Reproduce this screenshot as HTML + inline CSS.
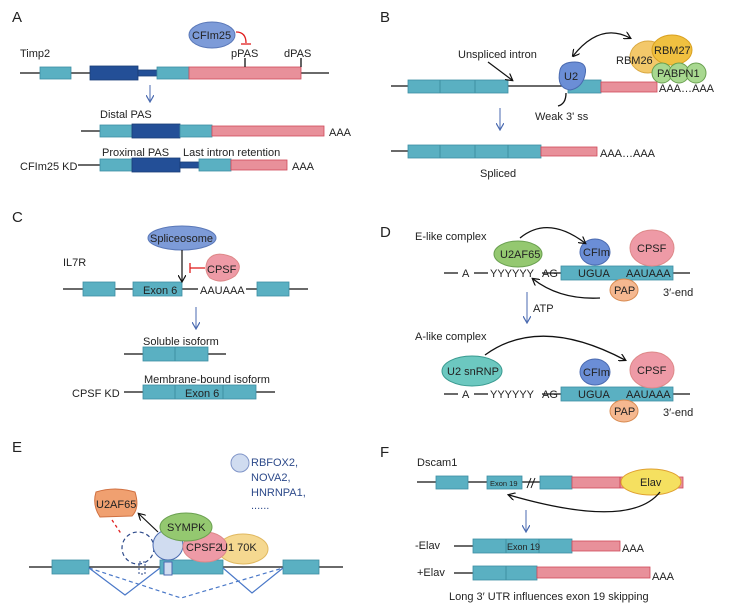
<!DOCTYPE html>
<html><head><meta charset="utf-8"><style>
body{margin:0;background:#fff}
svg{display:block;font-family:"Liberation Sans",sans-serif}
.t{fill:#5ab0c2;stroke:#3d8fa3;stroke-width:.8}
.d{fill:#234f97;stroke:#1a3d78;stroke-width:.8}
.p{fill:#e8909a;stroke:#d04a5a;stroke-width:.8}
.l{stroke:#111;stroke-width:1.3;fill:none}
text{font-size:11px;fill:#222}
.big{font-size:15px}
</style></head><body>
<svg width="731" height="613" viewBox="0 0 731 613">
<defs>
<marker id="ab" markerWidth="8" markerHeight="8" refX="6" refY="4" orient="auto" markerUnits="userSpaceOnUse"><path d="M0,0 L7,4 L0,8" fill="none" stroke="#4a6ab0" stroke-width="1.2"/></marker>
<marker id="ak" markerWidth="8" markerHeight="8" refX="6" refY="4" orient="auto" markerUnits="userSpaceOnUse"><path d="M0,0 L7,4 L0,8" fill="none" stroke="#111" stroke-width="1.2"/></marker>
<marker id="aks" markerWidth="8" markerHeight="8" refX="1" refY="4" orient="auto" markerUnits="userSpaceOnUse"><path d="M7,0 L0,4 L7,8" fill="none" stroke="#111" stroke-width="1.2"/></marker>
</defs>
<!-- A -->
<text x="12" y="22" class="big">A</text>
<text x="20" y="57">Timp2</text>
<line x1="20" y1="73" x2="329" y2="73" class="l"/>
<rect x="40" y="67" width="31" height="12" class="t"/>
<rect x="90" y="66" width="48" height="14" class="d"/>
<rect x="138" y="70" width="19" height="6" class="d"/>
<rect x="157" y="67" width="32" height="12" class="t"/>
<rect x="189" y="67" width="112" height="12" class="p"/>
<line x1="245" y1="58" x2="245" y2="67" class="l"/>
<line x1="301" y1="58" x2="301" y2="67" class="l"/>
<text x="231" y="57">pPAS</text><text x="284" y="57">dPAS</text>
<ellipse cx="212" cy="35" rx="23" ry="13" fill="#7d9bd8" stroke="#5a78b8"/>
<text x="192" y="39">CFIm25</text>
<path d="M236,32 Q246,32 246,43" stroke="#e02020" fill="none" stroke-width="1.3"/>
<line x1="241" y1="44" x2="251" y2="44" stroke="#e02020" stroke-width="1.3"/>
<line x1="150" y1="85" x2="150" y2="101" stroke="#4a6ab0" marker-end="url(#ab)"/>
<text x="100" y="118">Distal PAS</text>
<line x1="81" y1="131" x2="100" y2="131" class="l"/>
<rect x="100" y="125" width="32" height="12" class="t"/>
<rect x="132" y="124" width="48" height="14" class="d"/>
<rect x="180" y="125" width="32" height="12" class="t"/>
<rect x="212" y="126" width="112" height="10" class="p"/>
<text x="329" y="136">AAA</text>
<text x="102" y="156">Proximal PAS</text><text x="183" y="156">Last intron retention</text>
<text x="20" y="170">CFIm25 KD</text>
<line x1="78" y1="165" x2="100" y2="165" class="l"/>
<rect x="100" y="159" width="32" height="12" class="t"/>
<rect x="132" y="158" width="48" height="14" class="d"/>
<rect x="180" y="162" width="19" height="6" class="d"/>
<rect x="199" y="159" width="32" height="12" class="t"/>
<rect x="231" y="160" width="56" height="10" class="p"/>
<text x="292" y="170">AAA</text>
<!-- B -->
<text x="380" y="22" class="big">B</text>
<line x1="391" y1="86" x2="570" y2="86" class="l"/>
<rect x="408" y="80" width="100" height="13" class="t"/>
<line x1="440" y1="80" x2="440" y2="93" stroke="#3d8fa3"/><line x1="475" y1="80" x2="475" y2="93" stroke="#3d8fa3"/>
<rect x="568" y="80" width="33" height="13" class="t"/>
<rect x="601" y="82" width="56" height="10" class="p"/>
<text x="659" y="92">AAA…AAA</text>
<text x="458" y="58">Unspliced intron</text>
<line x1="488" y1="62" x2="512" y2="80" stroke="#111" stroke-width="1.2" marker-end="url(#ak)"/>
<path d="M560,70 Q562,62 575,62 Q588,62 585,75 Q582,88 570,90 Q556,88 560,70Z" fill="#6b8ed6" stroke="#4a6ab0"/>
<text x="564" y="80">U2</text>
<path d="M566,93 Q566,104 558,106" class="l"/>
<text x="535" y="120">Weak 3' ss</text>
<path d="M573,56 Q600,22 630,38" class="l" marker-start="url(#aks)" marker-end="url(#ak)"/>
<ellipse cx="648" cy="57" rx="18" ry="16" fill="#f3c86a" stroke="#d9a840"/>
<ellipse cx="672" cy="50" rx="20" ry="15" fill="#f0c040" stroke="#d9a020"/>
<circle cx="662" cy="73" r="10" fill="#a8d890" stroke="#6aa050"/>
<circle cx="679" cy="73" r="10" fill="#a8d890" stroke="#6aa050"/>
<circle cx="696" cy="73" r="10" fill="#a8d890" stroke="#6aa050"/>
<text x="616" y="64">RBM26</text><text x="654" y="54">RBM27</text><text x="657" y="77">PABPN1</text>
<line x1="500" y1="108" x2="500" y2="129" stroke="#4a6ab0" marker-end="url(#ab)"/>
<line x1="391" y1="151" x2="408" y2="151" class="l"/>
<rect x="408" y="145" width="133" height="13" class="t"/>
<line x1="440" y1="145" x2="440" y2="158" stroke="#3d8fa3"/><line x1="475" y1="145" x2="475" y2="158" stroke="#3d8fa3"/><line x1="508" y1="145" x2="508" y2="158" stroke="#3d8fa3"/>
<rect x="541" y="147" width="56" height="9" class="p"/>
<text x="600" y="157">AAA…AAA</text>
<text x="480" y="177">Spliced</text>
<!-- C -->
<text x="12" y="222" class="big">C</text>
<text x="63" y="266">IL7R</text>
<line x1="63" y1="289" x2="308" y2="289" class="l"/>
<rect x="83" y="282" width="32" height="14" class="t"/>
<rect x="133" y="282" width="49" height="14" class="t"/>
<text x="143" y="294">Exon 6</text>
<rect x="198" y="283" width="48" height="10" fill="#fff"/>
<text x="200" y="294">AAUAAA</text>
<rect x="257" y="282" width="32" height="14" class="t"/>
<ellipse cx="182" cy="238" rx="34" ry="12" fill="#7d9bd8" stroke="#5a78b8"/>
<text x="150" y="242">Spliceosome</text>
<line x1="182" y1="250" x2="182" y2="281" stroke="#111" stroke-width="1.2" marker-end="url(#ak)"/>
<path d="M208,260 Q215,250 232,257 Q245,265 235,276 Q222,285 210,278 Q203,270 208,260Z" fill="#ee9aa6" stroke="#d88"/>
<text x="207" y="273">CPSF</text>
<line x1="205" y1="268" x2="190" y2="268" stroke="#e02020" stroke-width="1.3"/>
<line x1="190" y1="263" x2="190" y2="273" stroke="#e02020" stroke-width="1.3"/>
<line x1="196" y1="307" x2="196" y2="328" stroke="#4a6ab0" marker-end="url(#ab)"/>
<text x="143" y="345">Soluble isoform</text>
<line x1="124" y1="354" x2="226" y2="354" class="l"/>
<rect x="143" y="347" width="65" height="14" class="t"/>
<line x1="175" y1="347" x2="175" y2="361" stroke="#3d8fa3"/>
<text x="144" y="383">Membrane-bound isoform</text>
<text x="72" y="397">CPSF KD</text>
<line x1="124" y1="392" x2="275" y2="392" class="l"/>
<rect x="143" y="385" width="113" height="14" class="t"/>
<line x1="175" y1="385" x2="175" y2="399" stroke="#3d8fa3"/><line x1="223" y1="385" x2="223" y2="399" stroke="#3d8fa3"/>
<text x="185" y="397">Exon 6</text>
<!-- D -->
<text x="380" y="237" class="big">D</text>
<text x="415" y="240">E-like complex</text>
<line x1="444" y1="273" x2="690" y2="273" class="l"/>
<rect x="458" y="268" width="16" height="10" fill="#fff"/><rect x="488" y="268" width="54" height="10" fill="#fff"/>
<text x="462" y="277">A</text><text x="490" y="277">YYYYYY</text><text x="542" y="277">AG</text>
<rect x="561" y="266" width="112" height="14" class="t"/>
<text x="578" y="277">UGUA</text><text x="626" y="277">AAUAAA</text>
<ellipse cx="518" cy="254" rx="24" ry="13" fill="#94c870" stroke="#6aa050"/>
<text x="500" y="258">U2AF65</text>
<ellipse cx="595" cy="252" rx="15" ry="13" fill="#6b8ed6" stroke="#4a6ab0"/>
<text x="583" y="256">CFIm</text>
<ellipse cx="652" cy="248" rx="22" ry="18" fill="#ee9aa6" stroke="#d88"/>
<text x="637" y="252">CPSF</text>
<ellipse cx="624" cy="290" rx="14" ry="11" fill="#f5b890" stroke="#d88a50"/>
<text x="614" y="294">PAP</text>
<text x="663" y="296">3′-end</text>
<path d="M520,238 Q548,215 585,243" class="l" marker-end="url(#ak)"/>
<path d="M600,298 Q560,300 533,279" class="l" marker-end="url(#ak)"/>
<line x1="527" y1="292" x2="527" y2="322" stroke="#4a6ab0" marker-end="url(#ab)"/>
<text x="533" y="312">ATP</text>
<text x="415" y="340">A-like complex</text>
<path d="M485,355 Q540,315 625,360" class="l" marker-end="url(#ak)"/>
<line x1="444" y1="394" x2="690" y2="394" class="l"/>
<rect x="458" y="389" width="16" height="10" fill="#fff"/><rect x="488" y="389" width="54" height="10" fill="#fff"/>
<text x="462" y="398">A</text><text x="490" y="398">YYYYYY</text><text x="542" y="398">AG</text>
<rect x="561" y="387" width="112" height="14" class="t"/>
<text x="578" y="398">UGUA</text><text x="626" y="398">AAUAAA</text>
<ellipse cx="472" cy="371" rx="30" ry="15" fill="#6cc8c0" stroke="#3a9a90"/>
<text x="447" y="375">U2 snRNP</text>
<ellipse cx="595" cy="372" rx="15" ry="13" fill="#6b8ed6" stroke="#4a6ab0"/>
<text x="583" y="376">CFIm</text>
<ellipse cx="652" cy="370" rx="22" ry="18" fill="#ee9aa6" stroke="#d88"/>
<text x="637" y="374">CPSF</text>
<ellipse cx="624" cy="411" rx="14" ry="11" fill="#f5b890" stroke="#d88a50"/>
<text x="614" y="415">PAP</text>
<text x="663" y="416">3′-end</text>
<!-- E -->
<text x="12" y="452" class="big">E</text>
<circle cx="240" cy="463" r="9" fill="#d0dcf0" stroke="#8095c8"/>
<text x="251" y="466" style="fill:#2d4a8a">RBFOX2,</text>
<text x="251" y="481" style="fill:#2d4a8a">NOVA2,</text>
<text x="251" y="496" style="fill:#2d4a8a">HNRNPA1,</text>
<text x="251" y="509" style="fill:#2d4a8a">......</text>
<line x1="29" y1="567" x2="343" y2="567" class="l"/>
<rect x="52" y="560" width="37" height="14" class="t"/>
<rect x="160" y="560" width="63" height="14" class="t"/>
<rect x="283" y="560" width="36" height="14" class="t"/>
<rect x="164" y="562" width="8" height="13" fill="#d0dcf0" stroke="#4a6ab0"/>
<rect x="139" y="562" width="6" height="12" fill="none" stroke="#2d4a8a" stroke-dasharray="2,2"/>
<path d="M89,568 L125,595 L160,568 M223,568 L252,593 L283,568" stroke="#4a78c8" stroke-width="1.2" fill="none"/>
<path d="M89,568 L181,598 L283,568" stroke="#4a78c8" stroke-width="1.2" fill="none" stroke-dasharray="4,3"/>
<circle cx="138" cy="548" r="16" fill="none" stroke="#2d4a8a" stroke-width="1.2" stroke-dasharray="4,3"/>
<circle cx="168" cy="545" r="15" fill="#d0dcf0" stroke="#4a6ab0"/>
<ellipse cx="243" cy="549" rx="25" ry="15" fill="#f5d890" stroke="#e0b860"/>
<ellipse cx="205" cy="547" rx="22" ry="15" fill="#ee9aa6" stroke="#d88"/>
<text x="186" y="551">CPSF2</text><text x="220" y="551">U1 70K</text>
<ellipse cx="186" cy="527" rx="26" ry="14" fill="#94c870" stroke="#6aa050"/>
<text x="167" y="531">SYMPK</text>
<path d="M96,492 Q115,486 135,492 Q140,508 132,516 L100,517 Q92,505 96,492Z" fill="#f0a070" stroke="#d07040"/>
<text x="96" y="508">U2AF65</text>
<line x1="158" y1="532" x2="139" y2="514" stroke="#111" stroke-width="1.2" marker-end="url(#ak)"/>
<path d="M112,520 L122,535" stroke="#e02020" stroke-width="1.3" stroke-dasharray="3,3"/>
<!-- F -->
<text x="380" y="457" class="big">F</text>
<text x="417" y="466">Dscam1</text>
<line x1="417" y1="482" x2="540" y2="482" class="l"/>
<rect x="436" y="476" width="32" height="13" class="t"/>
<rect x="487" y="476" width="35" height="13" class="t"/>
<text x="490" y="486" style="font-size:7.5px">Exon 19</text>
<path d="M527,488 L531,478 M531,488 L535,478" stroke="#111" stroke-width="1"/>
<rect x="540" y="476" width="32" height="13" class="t"/>
<rect x="572" y="477" width="111" height="11" class="p"/>
<line x1="620" y1="477" x2="620" y2="488" stroke="#d04a5a"/>
<ellipse cx="651" cy="482" rx="30" ry="13" fill="#f5e060" stroke="#e0a030"/>
<text x="640" y="486">Elav</text>
<path d="M660,492 Q630,530 509,495" class="l" marker-end="url(#ak)"/>
<line x1="526" y1="510" x2="526" y2="531" stroke="#4a6ab0" marker-end="url(#ab)"/>
<text x="415" y="549">-Elav</text>
<line x1="454" y1="546" x2="473" y2="546" class="l"/>
<rect x="473" y="539" width="99" height="14" class="t"/>
<line x1="506" y1="539" x2="506" y2="553" stroke="#3d8fa3"/><line x1="539" y1="539" x2="539" y2="553" stroke="#3d8fa3"/>
<text x="507" y="550" style="font-size:9px">Exon 19</text>
<rect x="572" y="541" width="48" height="10" class="p"/>
<text x="622" y="552">AAA</text>
<text x="417" y="576">+Elav</text>
<line x1="454" y1="573" x2="473" y2="573" class="l"/>
<rect x="473" y="566" width="64" height="14" class="t"/>
<line x1="506" y1="566" x2="506" y2="580" stroke="#3d8fa3"/>
<rect x="537" y="567" width="113" height="11" class="p"/>
<text x="652" y="580">AAA</text>
<text x="449" y="600">Long 3′ UTR influences exon 19 skipping</text>
</svg>
</body></html>
